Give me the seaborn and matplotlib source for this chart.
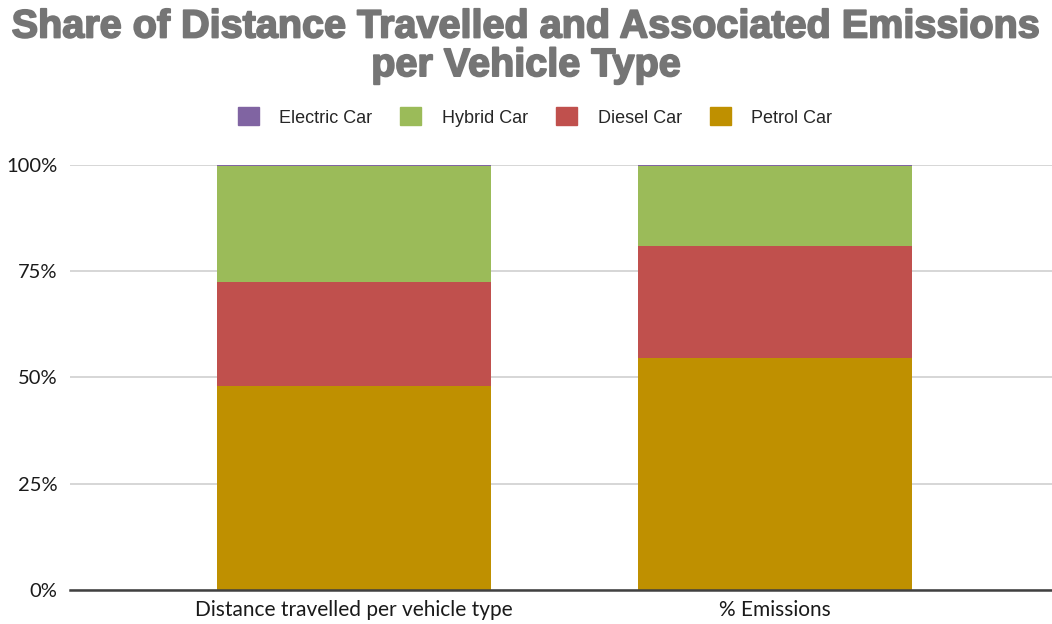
import matplotlib
matplotlib.use("Agg")
import matplotlib.pyplot as plt
import matplotlib.patheffects as pe
import seaborn as sns
import numpy as np
from matplotlib.patches import Patch
from matplotlib.ticker import FixedLocator

categories = ["Distance travelled per vehicle type", "% Emissions"]
series_names = ["Petrol Car", "Diesel Car", "Hybrid Car", "Electric Car"]
petrol = [48.0, 54.6]
diesel = [24.5, 26.3]
hybrid = [27.2, 18.8]
electric = [0.3, 0.3]
series_values = [petrol, diesel, hybrid, electric]
colors = {"Electric Car": "#8064A2", "Hybrid Car": "#9BBB59",
          "Diesel Car": "#C0504D", "Petrol Car": "#BF9000"}
ytick_values = [0, 25, 50, 75, 100]
ytick_labels = ["0%", "25%", "50%", "75%", "100%"]

sns.set_theme(style="white")
fig = plt.figure(figsize=(10.52, 6.24), dpi=100)
ax = fig.add_axes([70/1052, 34/624, 982/1052, 425/624])

bottom = np.zeros(len(categories))
for name, vals in zip(series_names, series_values):
    sns.barplot(x=categories, y=vals, bottom=bottom, color=colors[name],
                width=0.65, ax=ax, saturation=1, linewidth=0, zorder=3)
    bottom = bottom + np.array(vals)

ax.set_ylim(0, 100)
ax.set_xlim(-0.6746, 1.658)
ax.yaxis.set_major_locator(FixedLocator(ytick_values))
ax.set_yticklabels(ytick_labels, fontsize=14.5, family="Lato", color="#1a1a1a")
for lbl in ax.get_xticklabels():
    lbl.set_fontsize(15)
    lbl.set_family("Lato")
    lbl.set_color("#1a1a1a")
ax.tick_params(axis="y", length=0, pad=9)
ax.tick_params(axis="x", length=0, pad=7)
ax.grid(axis="y", color="#cfcfcf", linewidth=1.2, zorder=0)
for s in ["top", "right", "left"]:
    ax.spines[s].set_visible(False)
ax.spines["bottom"].set_color("#404040")
ax.spines["bottom"].set_linewidth(1.8)
ax.spines["bottom"].set_zorder(5)
ax.set_xlabel("")
ax.set_ylabel("")

fig.text(0.5, 0.988, "Share of Distance Travelled and Associated Emissions\nper Vehicle Type",
         ha="center", va="top", fontsize=28.5, fontweight="bold", color="#757575",
         family="Liberation Sans", linespacing=1.02,
         path_effects=[pe.withStroke(linewidth=1.3, foreground="#757575")])

legend_order = ["Electric Car", "Hybrid Car", "Diesel Car", "Petrol Car"]
handles = [Patch(facecolor=colors[n], edgecolor=colors[n]) for n in legend_order]
fig.legend(handles, legend_order, loc="center", bbox_to_anchor=(0.5086, 0.8125),
           ncol=4, frameon=False, prop={"family": "Liberation Sans", "size": 13},
           handlelength=1.15, handleheight=1.15, columnspacing=1.55, handletextpad=1.15)

fig.savefig("out.png", dpi=100)
